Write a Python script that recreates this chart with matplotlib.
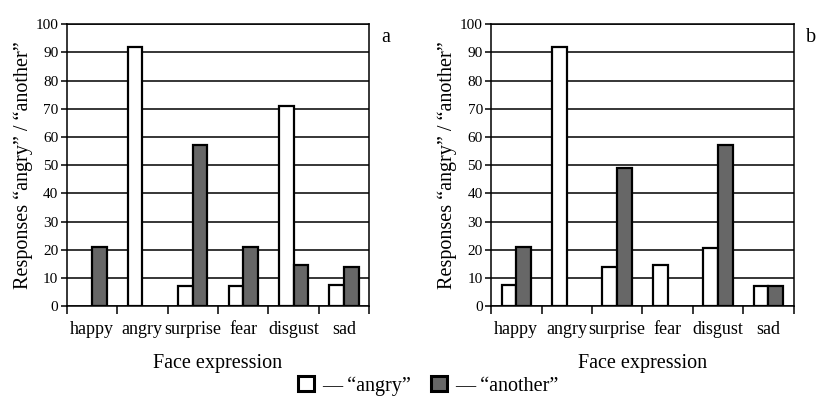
import numpy as np
import matplotlib
matplotlib.use("Agg")
import matplotlib.pyplot as plt
from matplotlib.patches import Patch

plt.rcParams['font.family'] = ['Liberation Serif', 'DejaVu Serif']

categories = ["happy", "angry", "surprise", "fear", "disgust", "sad"]
# panel a
angry_a = [0, 92, 7, 7, 71, 7.5]
another_a = [21, 0, 57, 21, 14.5, 14]
# panel b
angry_b = [7.5, 92, 14, 14.5, 20.5, 7]
another_b = [21, 0, 49, 0, 57, 7]

gray = "#676767"
fig = plt.figure(figsize=(8.24, 3.96), dpi=100)
ax_a = fig.add_axes([0.081, 0.227, 0.367, 0.712])
ax_b = fig.add_axes([0.596, 0.227, 0.367, 0.712])

x = np.arange(len(categories))
w = 0.29

for ax, a, b, tag in [(ax_a, angry_a, another_a, "a"), (ax_b, angry_b, another_b, "b")]:
    ax.set_axisbelow(True)
    for val, off, col in [(a, -w / 2, "white"), (b, w / 2, gray)]:
        h = np.array(val, dtype=float)
        mask = h > 0
        ax.bar(x[mask] + off, h[mask], width=w, color=col, edgecolor="black", linewidth=1.6, zorder=3)
    ax.set_xlim(-0.5, 5.5)
    ax.set_ylim(0, 100)
    ax.set_yticks(range(0, 101, 10))
    ax.yaxis.grid(True, color="black", linewidth=1.1)
    ax.set_xticks(np.arange(-0.5, 6, 1))
    ax.set_xticklabels([])
    ax.set_xticks(x, minor=True)
    ax.set_xticklabels(categories, minor=True, fontsize=13)
    ax.tick_params(axis="x", which="major", length=6, width=1.1, direction="out")
    ax.tick_params(axis="x", which="minor", length=0, pad=11)
    ax.tick_params(axis="y", length=4, width=1.1, labelsize=11, pad=2)
    for s in ax.spines.values():
        s.set_linewidth(1.1)
    ax.set_xlabel("Face expression", fontsize=14.5, labelpad=11)
    ax.set_ylabel("Responses \u201cangry\u201d / \u201canother\u201d", fontsize=14.5, labelpad=2)
    ax.text(1.04, 0.985, tag, transform=ax.transAxes, fontsize=14.5, ha="left", va="top")

handles = [Patch(facecolor="white", edgecolor="black", linewidth=2.2),
           Patch(facecolor=gray, edgecolor="black", linewidth=2.2)]
fig.legend(handles, ["\u2014 \u201cangry\u201d", "\u2014 \u201canother\u201d"], loc="lower center",
           bbox_to_anchor=(0.52, -0.045), ncol=2, frameon=False, fontsize=14.5,
           handlelength=0.8, handleheight=0.8, handletextpad=0.4, columnspacing=1.0)

fig.savefig("out.png", dpi=100)
